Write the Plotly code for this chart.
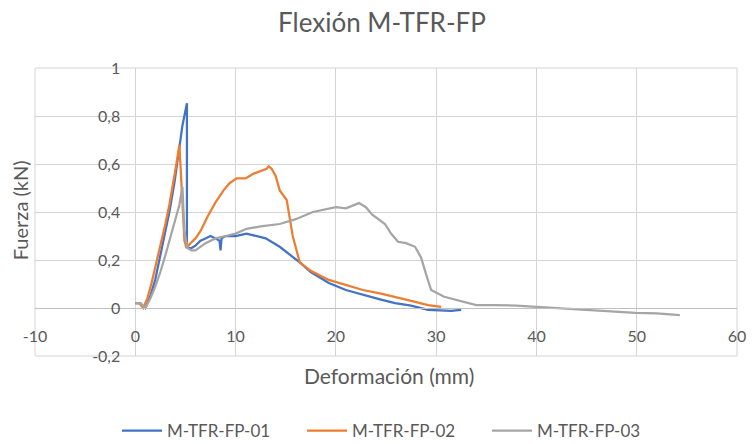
import plotly.graph_objects as go

# Data
x01 = [0, 0.5, 1.0, 1.5, 2.0, 2.4, 2.9, 3.4, 3.9, 4.3, 4.7, 5.15, 5.15, 5.3, 5.6, 6.0, 6.5, 7.0, 7.5, 8.0, 8.4, 8.5, 8.6, 9.0, 10.0, 11.1, 12.0, 13.0, 14.4, 15.5, 16.4, 17.5, 19.3, 21.0, 22.7, 24.5, 25.9, 27.5, 29.2, 30.5, 31.5, 32.5]
y01 = [0.02, 0.02, 0.0, 0.05, 0.12, 0.2, 0.3, 0.4, 0.52, 0.65, 0.76, 0.853, 0.27, 0.25, 0.25, 0.26, 0.28, 0.29, 0.30, 0.29, 0.28, 0.24, 0.29, 0.30, 0.30, 0.31, 0.30, 0.29, 0.255, 0.22, 0.19, 0.15, 0.104, 0.075, 0.054, 0.035, 0.02, 0.01, -0.008, -0.01, -0.012, -0.008]

x02 = [0, 0.4, 0.8, 1.2, 1.6, 2.0, 2.5, 3.0, 3.4, 3.8, 4.1, 4.4, 4.7, 4.9, 5.1, 5.5, 6.0, 6.5, 7.2, 8.0, 8.8, 9.4, 10.1, 11.0, 11.8, 12.5, 13.1, 13.3, 13.6, 14.0, 14.4, 15.1, 15.7, 16.4, 17.5, 19.3, 21.0, 22.7, 24.5, 25.9, 27.5, 29.2, 30.5]
y02 = [0.02, 0.02, 0.0, 0.04, 0.1, 0.17, 0.26, 0.35, 0.43, 0.52, 0.6, 0.68, 0.45, 0.28, 0.25, 0.27, 0.29, 0.32, 0.38, 0.44, 0.49, 0.52, 0.54, 0.54, 0.56, 0.57, 0.58, 0.59, 0.58, 0.55, 0.49, 0.45, 0.30, 0.19, 0.155, 0.117, 0.095, 0.075, 0.06, 0.047, 0.03, 0.012, 0.005]

x03 = [0, 0.5, 1.0, 1.5, 2.0, 2.5, 3.0, 3.5, 4.0, 4.4, 4.7, 4.9, 5.2, 5.6, 6.0, 7.0, 8.0, 9.0, 10.0, 11.1, 12.5, 14.4, 16.0, 17.7, 19.0, 20.0, 21.0, 22.3, 23.0, 23.6, 24.9, 25.5, 26.2, 27.0, 27.9, 28.5, 29.0, 29.5, 30.8, 32.5, 34.0, 35.8, 38.0, 40.0, 42.0, 43.5, 45.6, 47.5, 49.9, 52.0, 54.3]
y03 = [0.02, 0.02, 0.0, 0.04, 0.09, 0.15, 0.22, 0.3, 0.37, 0.43, 0.505, 0.32, 0.25, 0.24, 0.24, 0.27, 0.29, 0.30, 0.31, 0.33, 0.34, 0.35, 0.37, 0.40, 0.41, 0.42, 0.415, 0.437, 0.42, 0.39, 0.35, 0.31, 0.276, 0.27, 0.255, 0.21, 0.14, 0.075, 0.047, 0.03, 0.012, 0.012, 0.01, 0.005, 0.0, -0.005, -0.008, -0.012, -0.02, -0.022, -0.03]

series_names = ["M-TFR-FP-01", "M-TFR-FP-02", "M-TFR-FP-03"]
x_ticks = [-10, 0, 10, 20, 30, 40, 50, 60]
x_ticktext = ["-10", "0", "10", "20", "30", "40", "50", "60"]
y_ticks = [-0.2, 0, 0.2, 0.4, 0.6, 0.8, 1]
y_ticktext = ["-0,2", "0", "0,2", "0,4", "0,6", "0,8", "1"]

colors = ["#4472C4", "#ED7D31", "#A5A5A5"]
FONT = "Lato"
TXT = "#595959"
GRID = "#D4D4D4"

W, H = 752, 444
L, R, T, B = 35, 6, 68, 88
PW, PH = W - L - R, H - T - B

fig = go.Figure()
for xs, ys, name, c in zip([x01, x02, x03], [y01, y02, y03], series_names, colors):
    fig.add_trace(go.Scatter(x=xs, y=ys, mode="lines", name=name,
                             line=dict(color=c, width=2.25)))

xr = [-10, 60]
yr = [-0.2, 1]

fig.update_layout(
    width=W, height=H,
    margin=dict(l=L, r=R, t=T, b=B),
    paper_bgcolor="white", plot_bgcolor="white",
    font=dict(family=FONT, color=TXT, size=16),
    title=dict(text="Flexión M-TFR-FP", x=382 / W, xanchor="center", y=1 - 23 / H, yanchor="middle",
               xref="container", yref="container",
               font=dict(family=FONT, size=26, color=TXT)),
    showlegend=True,
    legend=dict(orientation="h", xref="container", yref="container",
                x=117 / W, xanchor="left", y=1 - 431 / H, yanchor="middle",
                font=dict(size=17, color=TXT), entrywidth=130, entrywidthmode="pixels",
                itemwidth=40),
)

fig.update_xaxes(range=xr, tickvals=x_ticks, ticktext=x_ticktext,
                 showgrid=True, gridcolor=GRID, gridwidth=1,
                 zeroline=True, zerolinecolor=GRID, zerolinewidth=1,
                 anchor="free", position=(0 - yr[0]) / (yr[1] - yr[0]),
                 showline=True, linecolor="#BFBFBF", linewidth=1,
                 ticks="", ticklabelstandoff=14, ticklabeloverflow="allow",
                 tickfont=dict(size=16, color=TXT))
fig.update_yaxes(range=yr, tickvals=y_ticks, ticktext=y_ticktext,
                 showgrid=True, gridcolor=GRID, gridwidth=1,
                 zeroline=False,
                 anchor="free", position=(0 - xr[0]) / (xr[1] - xr[0]),
                 showline=False,
                 ticks="", ticklabelstandoff=15, ticklabeloverflow="allow",
                 tickfont=dict(size=16, color=TXT))

# plot border
fig.add_shape(type="rect", xref="x domain", yref="y domain", x0=0, x1=1, y0=0, y1=1,
              line=dict(color=GRID, width=1), layer="below")

fig.add_annotation(text="Deformación (mm)", xref="paper", yref="paper",
                   x=(394 - L) / PW, y=(H - B - 375) / PH, xanchor="center", yanchor="middle",
                   showarrow=False, font=dict(size=21, color=TXT, family=FONT))
fig.add_annotation(text="Fuerza (kN)", xref="paper", yref="paper",
                   x=(20 - L) / PW, y=(H - B - 210) / PH, xanchor="center", yanchor="middle",
                   textangle=-90,
                   showarrow=False, font=dict(size=20, color=TXT, family=FONT))

fig.write_html("out.html")
